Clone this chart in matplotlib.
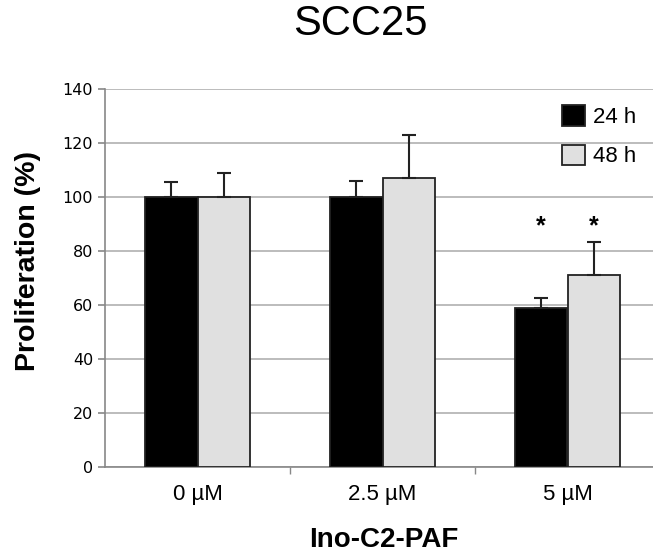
import numpy as np
import matplotlib.pyplot as plt
from matplotlib.patches import Patch

# data
doses = ['0 µM', '2.5 µM', '5 µM']
h24 = [100, 100, 59]
h24_err = [5.5, 6, 3.7]
h48 = [100, 107, 71]
h48_err = [9, 16, 12.5]
signif_24 = [False, False, True]
signif_48 = [False, False, True]

W, H = 653, 555
fig = plt.figure(figsize=(W/100, H/100), dpi=100)
ax = fig.add_axes([105/W, 88/H, 555/W, 378/H])

x = np.arange(len(doses))
w = 0.286
ekw = dict(elinewidth=1.5, capsize=5, capthick=1.5, ecolor='#222222')
ax.bar(x - w/2, h24, w, color='black', edgecolor='#222222', linewidth=1.3,
       yerr=[np.zeros(3), h24_err], error_kw=ekw, zorder=3)
ax.bar(x + w/2, h48, w, color='#e0e0e0', edgecolor='#222222', linewidth=1.3,
       yerr=[np.zeros(3), h48_err], error_kw=ekw, zorder=3)

for i in range(len(doses)):
    if signif_24[i]:
        ax.text(x[i] - w/2, 89, '*', ha='center', va='center', fontsize=18,
                fontweight='bold', family='Liberation Sans')
    if signif_48[i]:
        ax.text(x[i] + w/2, 89, '*', ha='center', va='center', fontsize=18,
                fontweight='bold', family='Liberation Sans')

ax.set_xlim(-0.5, 2.5)
ax.set_ylim(0, 140)
ax.set_yticks(range(0, 141, 20))
ax.yaxis.grid(True, color='#b0b0b0', linewidth=1.2, zorder=0)
ax.tick_params(axis='y', labelsize=11.5, length=5, color='#888888', width=1.2)
ax.set_xticks(x)
ax.set_xticklabels(doses, fontsize=16, family='Liberation Sans')
ax.tick_params(axis='x', length=0, pad=12)
ax.set_xticks([0.5, 1.5], minor=True)
ax.tick_params(axis='x', which='minor', length=5, color='#888888', width=1)
for s in ['right', 'top']:
    ax.spines[s].set_visible(False)
for s in ['left', 'bottom']:
    ax.spines[s].set_color('#888888')
    ax.spines[s].set_linewidth(1.2)

fig.text(28/W, 1 - 261/H, 'Proliferation (%)', rotation=90, ha='center', va='center',
         fontsize=20.5, fontweight='bold', family='Liberation Sans')
fig.text(384/W, 1 - 540/H, 'Ino-C2-PAF', ha='center', va='center',
         fontsize=20, fontweight='bold', family='Liberation Sans')
fig.text(360/W, 1 - 24/H, 'SCC25', ha='center', va='center', fontsize=30,
         family='Liberation Sans')

handles = [Patch(facecolor='black', edgecolor='#222222', linewidth=1.3, label='24 h'),
           Patch(facecolor='#e0e0e0', edgecolor='#222222', linewidth=1.3, label='48 h')]
ax.legend(handles=handles, loc='upper left', bbox_to_anchor=(562/W, 1 - 105/H),
          bbox_transform=fig.transFigure, frameon=False, borderpad=0, borderaxespad=0,
          handlelength=1.05, handleheight=1.05, handletextpad=0.36, labelspacing=0.75,
          prop={'family': 'Liberation Sans', 'size': 16})

fig.savefig('out.png', dpi=100)
